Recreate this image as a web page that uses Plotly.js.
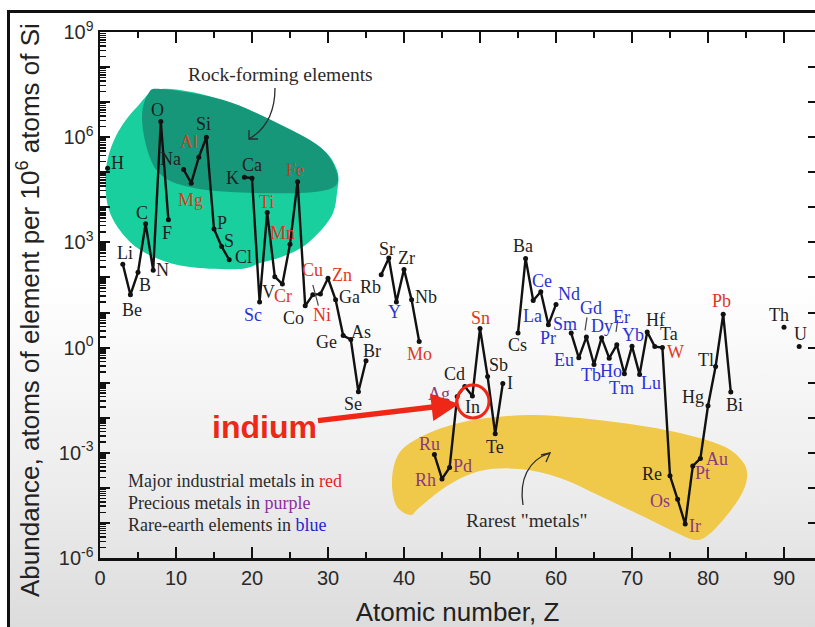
<!DOCTYPE html>
<html>
<head>
<meta charset="utf-8">
<script src="https://cdn.plot.ly/plotly-3.0.1.min.js"></script>
<style>
  html, body { margin:0; padding:0; background:#ffffff; width:815px; height:627px; overflow:hidden; }
  #frame { position:absolute; left:7px; top:10px; width:830px; height:640px;
           border-left:3px solid #111; border-top:3px solid #111;
           background:linear-gradient(to bottom, #ffffff 0%, #ffffff 42%, #ececec 75%, #d9d9d9 100%); }
  #chart { position:absolute; left:0; top:0; width:815px; height:627px; }
</style>
</head>
<body>
<div id="frame"></div>
<div id="chart"></div>
<script>
// ---------------- DATA ----------------
const elements = ['H','Li','Be','B','C','N','O','F','Na','Mg','Al','Si','P','S','Cl','K','Ca','Sc','Ti','V','Cr','Mn','Fe','Co','Ni','Cu','Zn','Ga','Ge','As','Se','Br','Rb','Sr','Y','Zr','Nb','Mo','Ru','Rh','Pd','Ag','Cd','In','Sn','Sb','Te','I','Cs','Ba','La','Ce','Pr','Nd','Sm','Eu','Gd','Tb','Dy','Ho','Er','Tm','Yb','Lu','Hf','Ta','W','Re','Os','Ir','Pt','Au','Hg','Tl','Pb','Bi','Th','U'];
const atomicNumber = [1,3,4,5,6,7,8,9,11,12,13,14,15,16,17,19,20,21,22,23,24,25,26,27,28,29,30,31,32,33,34,35,37,38,39,40,41,42,44,45,46,47,48,49,50,51,52,53,55,56,57,58,59,60,62,63,64,65,66,67,68,69,70,71,72,73,74,75,76,77,78,79,80,81,82,83,90,92];
const abundance = [1.3e5,2.4e2,32,1.4e2,3.4e3,1.6e2,2.8e6,4.4e3,
  1.2e5,4.9e4,2.7e5,1.0e6,2.4e3,7.6e2,3.2e2,
  7.2e4,6.8e4,20,7.1e3,1.05e2,65,8.9e2,5.4e4,15.5,32,34,95,23,2.2,1.7,0.055,0.42,
  1.2e2,3.6e2,20,1.7e2,23,1.5,
  8.9e-4,1.8e-4,3.8e-4,0.040,0.078,0.042,3.5,0.15,3.5e-3,0.095,
  2.6,3.5e2,22,39,4.5,17,
  2.6,0.51,2.0,0.33,1.9,0.50,1.2,0.18,1.1,0.17,2.8,1.07,1.0,2.2e-4,4.7e-5,9.3e-6,4.2e-4,6.9e-4,0.022,0.29,8.9,0.054,
  3.8,1.07];
const industrialMetals = ['Mg','Al','Ti','Cr','Mn','Fe','Ni','Cu','Zn','Mo','Sn','W','Pb'];
const preciousMetals = ['Ru','Rh','Pd','Ag','Os','Ir','Pt','Au'];
const rareEarths = ['Sc','Y','La','Ce','Pr','Nd','Sm','Eu','Gd','Tb','Dy','Ho','Er','Tm','Yb','Lu'];
const xTickVals = [0,10,20,30,40,50,60,70,80,90];
const yLabelExponents = [9,6,3,0,-3,-6];

// ---------------- LAYOUT HELPERS ----------------
const L = 100, T = 32, W = 715, H = 526;      // plot box in pixels
const X_MAX = W / 7.6, Y_MIN = -6, Y_MAX = 9;
const PX = p => (p - L) / W;                   // pixel -> paper x
const PY = p => (T + H - p) / H;               // pixel -> paper y
const dataPx = z => L + z / X_MAX * W;         // same scale as the x axis
const dataPy = v => T + (Y_MAX - Math.log10(v)) / (Y_MAX - Y_MIN) * H;
function smoothClosed(pts){
  const n = pts.length; let d = 'M' + PX(pts[0][0]) + ',' + PY(pts[0][1]);
  for(let i=0;i<n;i++){
    const p0=pts[(i-1+n)%n], p1=pts[i], p2=pts[(i+1)%n], p3=pts[(i+2)%n];
    const c1=[p1[0]+(p2[0]-p0[0])/6, p1[1]+(p2[1]-p0[1])/6];
    const c2=[p2[0]-(p3[0]-p1[0])/6, p2[1]-(p3[1]-p1[1])/6];
    d += ' C'+PX(c1[0])+','+PY(c1[1])+' '+PX(c2[0])+','+PY(c2[1])+' '+PX(p2[0])+','+PY(p2[1]);
  }
  return d + ' Z';
}
function pathOf(cmds){
  return cmds.map(c => {
    let s = c[0];
    for(let i=1;i<c.length;i+=2){ s += (i>1?' ':'') + PX(c[i]) + ',' + PY(c[i+1]); }
    return s;
  }).join(' ');
}

// label offsets in screen pixels [dx, dy] (dy downward)
const labelOffset = {
  H:[10,-5], Li:[2,-11], Be:[2,15], B:[7,13], C:[-4,-11], N:[9,0], O:[-3,-12], F:[-1,13],
  Na:[-13,-10], Mg:[-1,17], Al:[-10,-15], Si:[-3,-13], P:[8,-6], S:[7,-6], Cl:[14,-3],
  K:[-12,1], Ca:[0,-13], Sc:[-7,13], Ti:[-1,-11], V:[-6,15], Cr:[1,12], Mn:[-8,-11], Fe:[-3,-12],
  Co:[-12,12], Ni:[9,20], Cu:[-8,-24], Zn:[14,-3], Ga:[14,-3], Ge:[-17,6], As:[10,-8], Se:[-5,12], Br:[6,-10],
  Rb:[-11,12], Sr:[-2,-9], Y:[-2,10], Zr:[2,-11], Nb:[14,-3], Mo:[0,13],
  Ru:[-5,-11], Rh:[-17,1], Pd:[13,-2], Ag:[-18,-3], Cd:[-10,-12], In:[0,11], Sn:[0,-11], Sb:[11,-11], Te:[0,13], I:[7,0],
  Cs:[-1,12], Ba:[-3,-12], La:[-1,15], Ce:[1,-11], Pr:[0,13], Nd:[13,-10],
  Sm:[-6,-9], Eu:[-15,2], Gd:[5,-29], Tb:[-3,11], Dy:[0,-12], Ho:[2,13], Er:[5,-28], Tm:[-3,14], Yb:[1,-11], Lu:[11,8],
  Hf:[8,-12], Ta:[14,-13], W:[13,4], Re:[-18,-2], Os:[-18,2], Ir:[10,2], Pt:[10,7], Au:[17,1],
  Hg:[-15,-9], Tl:[-10,-6], Pb:[-2,-13], Bi:[4,13], Th:[-5,-12], U:[1,-13]
};
// leader ticks [element, from dx, from dy, to dx, to dy] in pixels relative to the point
const leaders = [['Cu',-7.6,-9,-2,11.7], ['Gd',0.6,-19.7,-1.4,-6.7], ['Er',0.9,-24.6,-0.8,-13]];
const RED = '#e2361d', PURPLE = '#8a3b7d', BLUE = '#2a33d4', INK = '#1e1e1e';
function colorOf(el){
  if(industrialMetals.includes(el)) return RED;
  if(preciousMetals.includes(el)) return PURPLE;
  if(rareEarths.includes(el)) return BLUE;
  return INK;
}

// ---------------- TRACES ----------------
const lx = [], ly = [];
for(let i=0;i<atomicNumber.length;i++){
  if(i>0 && atomicNumber[i]-atomicNumber[i-1] > 1){ lx.push(null); ly.push(null); }
  lx.push(atomicNumber[i]); ly.push(abundance[i]);
}
const traces = [
  { type:'scatter', mode:'lines+markers', x:lx, y:ly, connectgaps:false,
    line:{color:'#111', width:2.4}, marker:{color:'#111', size:5},
    hoverinfo:'x+y', showlegend:false },
  { type:'scatter', x:[], y:[], yaxis:'y2', showlegend:false, hoverinfo:'skip' },
  { type:'scatter', x:[], y:[], yaxis:'y3', showlegend:false, hoverinfo:'skip' }
];

// ---------------- ANNOTATIONS ----------------
const serif = 'Liberation Serif, Times New Roman, serif';
const sans = 'Liberation Sans, Arial, sans-serif';
const annotations = elements.map((el,i) => ({
  x: atomicNumber[i], y: Math.log10(abundance[i]), xref:'x', yref:'y',
  xanchor:'center', yanchor:'middle',
  text: el, showarrow:false, xshift: labelOffset[el][0], yshift: -labelOffset[el][1],
  font:{family:serif, size:18, color: colorOf(el)}
}));

annotations.push(
  { xref:'paper', yref:'paper', x:PX(280), y:PY(75), xanchor:'center', yanchor:'middle', text:'Rock-forming elements', showarrow:false,
    font:{family:serif, size:19.5, color:'#2b2b2b'} },
  { xref:'paper', yref:'paper', x:PX(527), y:PY(520), xanchor:'center', yanchor:'middle', text:'Rarest "metals"', showarrow:false,
    font:{family:serif, size:19.5, color:'#2b2b2b'} },
  { xref:'paper', yref:'paper', x:PX(126), y:PY(481), xanchor:'left', yanchor:'middle', showarrow:false,
    text:'Major industrial metals in <span style="color:#e2261a">red</span>', font:{family:serif, size:18, color:'#2b2b2b'} },
  { xref:'paper', yref:'paper', x:PX(126), y:PY(503), xanchor:'left', yanchor:'middle', showarrow:false,
    text:'Precious metals in <span style="color:#8b2f9e">purple</span>', font:{family:serif, size:18, color:'#2b2b2b'} },
  { xref:'paper', yref:'paper', x:PX(126), y:PY(525), xanchor:'left', yanchor:'middle', showarrow:false,
    text:'Rare-earth elements in <span style="color:#2626d0">blue</span>', font:{family:serif, size:18, color:'#2b2b2b'} },
  { xref:'paper', yref:'paper', x:PX(459), y:PY(404), axref:'pixel', ayref:'pixel', ax:-195, ay:23,
    text:'<b>indium</b>', showarrow:true, arrowhead:2, arrowsize:1, arrowwidth:5.5, arrowcolor:'#ee2716',
    font:{family:sans, size:32, color:'#ee2716'} },
  { xref:'paper', yref:'paper', x:PX(28), y:PY(310), xanchor:'center', yanchor:'middle', textangle:-90, showarrow:false,
    text:'Abundance, atoms of element per 10<sup>6</sup> atoms of Si', font:{family:sans, size:26, color:'#222'} }
);

// ---------------- SHAPES ----------------
const greenLight = [[162,89],[223,100],[277,123],[320,147],[337,170],[337,193],[331,217],[308,243],[284,256],[260,263],[240,269],[190,267],[156,258],[129,241],[109,210],[106,170],[116,136],[137,107]];
const greenDark = [[148,94],[162,89],[223,100],[277,123],[320,147],[336,170],[334,187],[300,193],[230,192],[185,186],[160,174],[148,152],[142,118]];
const yellow = [[410,515],[396,505],[392,480],[398,455],[415,440],[445,427],[480,419],[530,415],[580,418],[630,424],[680,433],[723,446],[743,462],[747,478],[740,497],[723,520],[707,536],[695,540],[677,533],[640,515],[600,496],[560,478],[520,469],[480,471],[447,486],[420,507]];
const shapes = [
  { type:'path', xref:'paper', yref:'paper', layer:'below', path:smoothClosed(greenLight), fillcolor:'#18cf9d', line:{width:0} },
  { type:'path', xref:'paper', yref:'paper', layer:'below', path:smoothClosed(greenDark), fillcolor:'#17977a', line:{width:0} },
  { type:'path', xref:'paper', yref:'paper', layer:'below', path:smoothClosed(yellow), fillcolor:'#f0c84a', line:{width:0} },
  { type:'path', xref:'paper', yref:'paper', path:pathOf([['M',275,88],['C',275,110,268,128,249,139]]), line:{color:'#2b2b2b', width:1.3} },
  { type:'path', xref:'paper', yref:'paper', path:pathOf([['M',249,130],['L',249,139],['L',258,139]]), line:{color:'#2b2b2b', width:1.3} },
  { type:'path', xref:'paper', yref:'paper', path:pathOf([['M',523,505],['C',519,480,528,460,550,453]]), line:{color:'#2b2b2b', width:1.3} },
  { type:'path', xref:'paper', yref:'paper', path:pathOf([['M',541,455],['L',550,453],['L',546,462]]), line:{color:'#2b2b2b', width:1.3} },
  { type:'circle', xref:'paper', yref:'paper', x0:PX(457), x1:PX(489), y0:PY(418), y1:PY(385), line:{color:'#ee2716', width:3} }
];
leaders.forEach(([el,fx,fy,tx,ty]) => {
  const i = elements.indexOf(el);
  const cx = dataPx(atomicNumber[i]), cy = dataPy(abundance[i]);
  shapes.push({ type:'line', xref:'paper', yref:'paper', x0:PX(cx+fx), y0:PY(cy+fy), x1:PX(cx+tx), y1:PY(cy+ty),
    line:{color:'#444', width:1.2} });
});

// ---------------- AXES ----------------
const decades = []; for(let e=Y_MIN;e<=Y_MAX;e++) decades.push(Math.pow(10,e));
const labelVals = yLabelExponents.map(e => Math.pow(10,e));
const labelText = yLabelExponents.map(e => '10<sup>'+e+'</sup>');

const layout = {
  width:815, height:627,
  margin:{l:L, r:815-L-W, t:T, b:627-T-H, pad:0},
  paper_bgcolor:'rgba(0,0,0,0)', plot_bgcolor:'rgba(0,0,0,0)',
  showlegend:false,
  xaxis:{
    range:[0, X_MAX], tickmode:'array', tickvals:xTickVals, ticks:'inside', ticklen:11, tickwidth:2, tickcolor:'#111',
    minor:{dtick:5, tick0:0, ticks:'inside', ticklen:6, tickwidth:2, tickcolor:'#111', showgrid:false},
    showline:true, linewidth:2.5, linecolor:'#111', mirror:'ticks', showgrid:false, zeroline:false,
    tickfont:{family:sans, size:20, color:'#2a2a2a'},
    title:{text:'Atomic number, Z', font:{family:sans, size:26, color:'#222'}, standoff:32}
  },
  yaxis:{
    type:'log', range:[Y_MIN,Y_MAX], tickmode:'array', tickvals:labelVals, ticktext:labelText,
    ticks:'inside', ticklen:10, tickwidth:2, tickcolor:'#111',
    minor:{dtick:'D1', ticks:'inside', ticklen:6, tickwidth:1.5, tickcolor:'#111', showgrid:false},
    showline:true, linewidth:2.5, linecolor:'#111', mirror:false, showgrid:false, zeroline:false,
    tickfont:{family:sans, size:20, color:'#2a2a2a'}
  },
  yaxis2:{
    type:'log', range:[Y_MIN,Y_MAX], overlaying:'y', side:'right', tickmode:'array', tickvals:decades,
    ticks:'inside', ticklen:7, tickwidth:2, tickcolor:'#111', showticklabels:false,
    showline:true, linewidth:2.5, linecolor:'#111', showgrid:false, zeroline:false
  },
  yaxis3:{
    type:'log', range:[Y_MIN,Y_MAX], overlaying:'y', side:'left', tickmode:'array', tickvals:decades,
    ticks:'inside', ticklen:10, tickwidth:2, tickcolor:'#111', showticklabels:false,
    showline:false, showgrid:false, zeroline:false
  },
  shapes: shapes,
  annotations: annotations
};

Plotly.newPlot('chart', traces, layout, {displayModeBar:false, staticPlot:true});
</script>
</body>
</html>
